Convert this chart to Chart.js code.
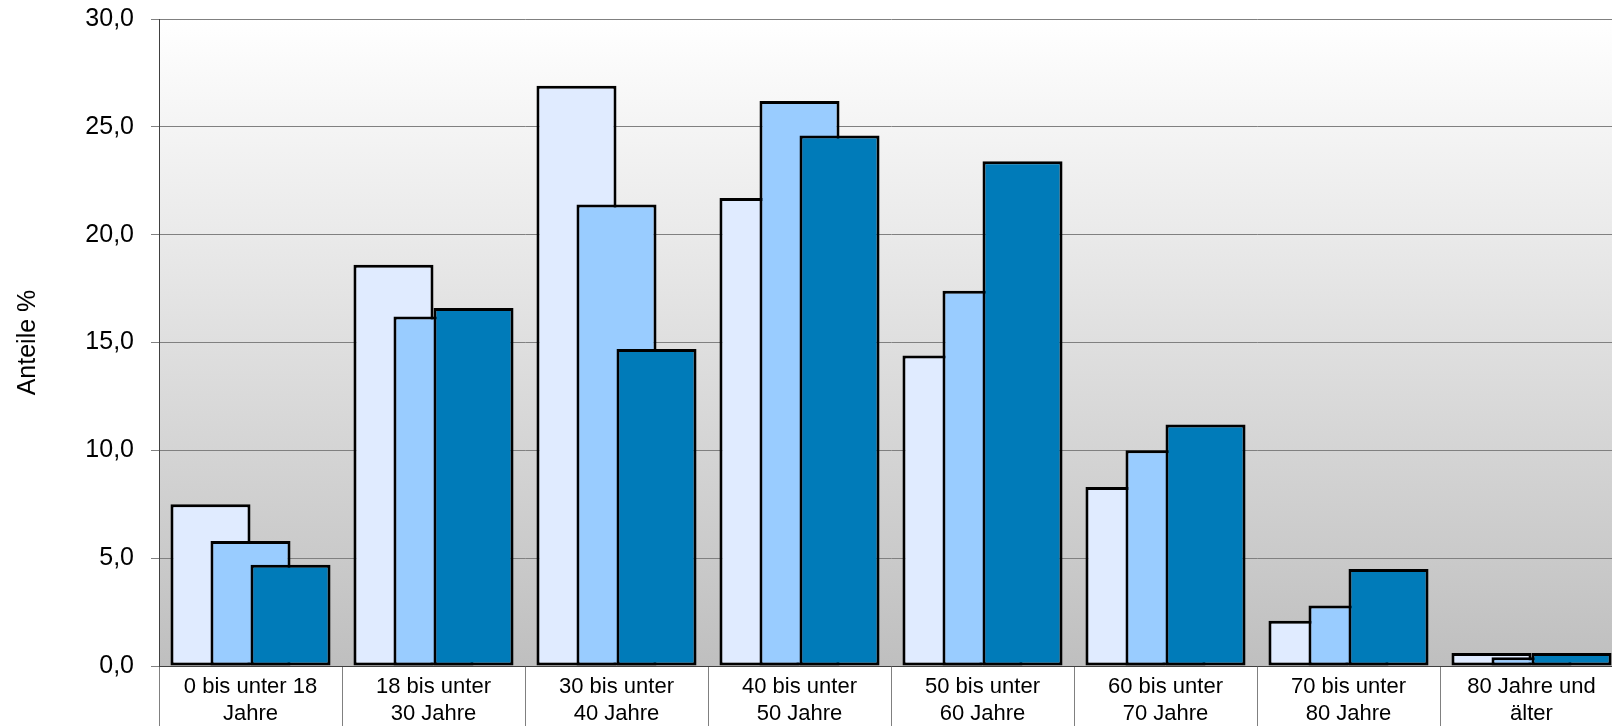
<!DOCTYPE html>
<html>
<head>
<meta charset="utf-8">
<script src="https://cdn.jsdelivr.net/npm/chart.js@4"></script>
<style>
  html, body { margin: 0; padding: 0; background: #fff; overflow: hidden; }
  #wrap { width: 1630px; height: 726px; position: relative; }
</style>
</head>
<body>
<div id="wrap"><canvas id="ageChart"></canvas></div>
<script>
const categories = [
  ["0 bis unter 18", "Jahre"],
  ["18 bis unter", "30 Jahre"],
  ["30 bis unter", "40 Jahre"],
  ["40 bis unter", "50 Jahre"],
  ["50 bis unter", "60 Jahre"],
  ["60 bis unter", "70 Jahre"],
  ["70 bis unter", "80 Jahre"],
  ["80 Jahre und", "älter"],
];
const seriesA = [7.5, 18.6, 26.9, 21.7, 14.4, 8.3, 2.1, 0.6];
const seriesB = [5.8, 16.2, 21.4, 26.2, 17.4, 10.0, 2.8, 0.4];
const seriesC = [4.7, 16.6, 14.7, 24.6, 23.4, 11.2, 4.5, 0.6];
const yTicks = [0, 5, 10, 15, 20, 25, 30];

const fontFamily = "'Liberation Sans', Arial, sans-serif";

// plot area background: light at the top, grey at the bottom
const plotBackground = {
  id: "plotBackground",
  beforeDraw(chart) {
    const { ctx, chartArea } = chart;
    const g = ctx.createLinearGradient(0, chartArea.top, 0, chartArea.bottom);
    g.addColorStop(0, "#ffffff");
    g.addColorStop(1, "#bfbfbf");
    ctx.save();
    ctx.fillStyle = g;
    ctx.fillRect(chartArea.left, chartArea.top, chartArea.width, chartArea.height);
    ctx.restore();
  },
};

// draw datasets first-to-last so the right bar lies on top
const drawInOrder = {
  id: "drawInOrder",
  beforeDatasetsDraw(chart) {
    chart.getSortedVisibleDatasetMetas().forEach((meta) => meta.controller.draw());
    return false;
  },
};

const ctx = document.getElementById("ageChart");

new Chart(ctx, {
  type: "bar",
  data: {
    labels: categories,
    datasets: [
      { data: seriesA, backgroundColor: "#e0ebff" },
      { data: seriesB, backgroundColor: "#99ccff" },
      { data: seriesC, backgroundColor: "#007bb9" },
    ],
  },
  options: {
    responsive: true,
    maintainAspectRatio: false,
    animation: false,
    datasets: {
      bar: {
        borderColor: "#000000",
        borderWidth: 3,
        borderSkipped: false,
        categoryPercentage: 0.656,
        barPercentage: 2.0,
      },
    },
    layout: {
      padding: { top: 19, right: 7, bottom: 0, left: 0 },
    },
    scales: {
      x: {
        grid: {
          offset: true,
          drawOnChartArea: false,
          color: "#808080",
          tickLength: 60,
        },
        border: { color: "#404040" },
        ticks: {
          color: "#000000",
          padding: -52,
          maxRotation: 0,
          font: { family: fontFamily, size: 22, lineHeight: 1.22 },
        },
        afterFit(axis) {
          axis.height = 60;
        },
      },
      y: {
        min: 0,
        max: 30,
        afterBuildTicks(axis) {
          axis.ticks = yTicks.map((v) => ({ value: v }));
        },
        grid: {
          color: "#808080",
          tickLength: 8,
        },
        border: { color: "#404040" },
        ticks: {
          color: "#000000",
          padding: 17,
          font: { family: fontFamily, size: 25 },
          callback: (v) => v.toFixed(1).replace(".", ","),
        },
        title: {
          display: true,
          text: "Anteile %",
          color: "#000000",
          padding: { top: 13, bottom: 0 },
          font: { family: fontFamily, size: 25 },
        },
        afterFit(axis) {
          axis.width = 159;
          axis.paddingTop = 0;
          axis.paddingBottom = 0;
        },
      },
    },
    plugins: {
      legend: { display: false },
      tooltip: { enabled: false },
    },
  },
  plugins: [plotBackground, drawInOrder],
});
</script>
</body>
</html>
